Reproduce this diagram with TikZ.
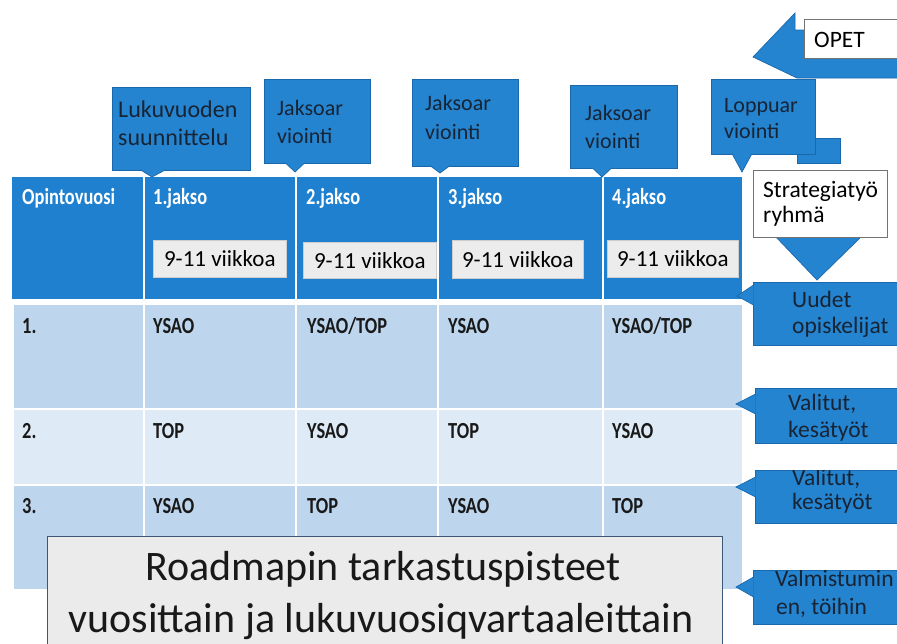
\documentclass[tikz,border=0pt]{standalone}
\usepackage{fontspec}
\setmainfont{Carlito}
\newfontfamily\narrowfont[FakeStretch=0.8]{Carlito}

\definecolor{hdrblue}{RGB}{30,128,206}
\definecolor{callblue}{RGB}{36,132,208}
\definecolor{calledge}{RGB}{26,104,172}
\definecolor{rowa}{RGB}{189,214,238}
\definecolor{rowb}{RGB}{222,234,246}
\definecolor{chip}{RGB}{236,236,236}
\definecolor{chipedge}{RGB}{205,205,205}
\definecolor{ink}{RGB}{24,36,52}
\definecolor{titlefill}{RGB}{235,235,235}
\definecolor{titleedge}{RGB}{60,88,120}

\tikzset{
  callbox/.style={fill=callblue, draw=calledge, line width=0.7pt, inner sep=0pt, anchor=north west},
  whitebox/.style={fill=white, draw=black!55, line width=0.8pt, inner sep=0pt, anchor=north west},
  callpointer/.style={fill=callblue, draw=calledge, line width=0.7pt},
  calltext/.style={text=ink, font=\fontsize{22}{26}\selectfont, anchor=base west, inner sep=0pt},
  bigcalltext/.style={calltext, font=\fontsize{24}{28}\selectfont},
  sidetext/.style={calltext, font=\fontsize{23.5}{28}\selectfont},
  boxtext/.style={text=black, font=\fontsize{23.5}{28}\selectfont, anchor=base west, inner sep=0pt},
  hdrtext/.style={text=white, font=\narrowfont\bfseries\fontsize{23}{26}\selectfont, anchor=base west, inner sep=0pt},
  celltext/.style={text=black!90, font=\narrowfont\bfseries\fontsize{23}{26}\selectfont, anchor=base west, inner sep=0pt},
  chipbox/.style={fill=chip, draw=chipedge, line width=0.6pt, anchor=north west, inner sep=0pt,
    text=black, font=\fontsize{23}{26}\selectfont},
  titletext/.style={text=black!90, font=\fontsize{42}{48}\selectfont, anchor=base, inner sep=0pt},
  gridline/.style={white, line width=2pt}
}

\begin{document}
\begin{tikzpicture}[x=1pt,y=-1pt]
\clip (0,0) rectangle (897,643);
\fill[white] (0,0) rectangle (897,643);

% ---------- table ----------
\fill[hdrblue] (12,177) rectangle (742,299);
\fill[rowa] (14,305) rectangle (742,408);
\fill[rowb] (14,410) rectangle (742,484);
\fill[rowa] (14,486) rectangle (742,589);
\foreach \cx in {144,296,438,603}
  \draw[gridline] (\cx,177) -- (\cx,589);

% header texts
\node[hdrtext] (hOpv) at (22,204) {Opintovuosi};
\node[hdrtext] (hJ1) at (153,204) {1.jakso};
\node[hdrtext] (hJ2) at (306,204) {2.jakso};
\node[hdrtext] (hJ3) at (448,204) {3.jakso};
\node[hdrtext] (hJ4) at (612,204) {4.jakso};

% duration chips
\node[chipbox, minimum width=133pt, minimum height=37pt] (g1) at (153,240) {9-11 viikkoa};
\node[chipbox, minimum width=133pt, minimum height=36pt] (g2) at (303,242) {9-11 viikkoa};
\node[chipbox, minimum width=131pt, minimum height=38pt] (g3) at (452,240) {9-11 viikkoa};
\node[chipbox, minimum width=131pt, minimum height=37pt] (g4) at (607,240) {9-11 viikkoa};

% body rows
\node[celltext] (r1c0) at (22,333) {1.};
\node[celltext] (r1c1) at (153,333) {YSAO};
\node[celltext] (r1c2) at (307,333) {YSAO/TOP};
\node[celltext] (r1c3) at (448,333) {YSAO};
\node[celltext] (r1c4) at (612,333) {YSAO/TOP};

\node[celltext] (r2c0) at (22,438) {2.};
\node[celltext] (r2c1) at (153,438) {TOP};
\node[celltext] (r2c2) at (307,438) {YSAO};
\node[celltext] (r2c3) at (448,438) {TOP};
\node[celltext] (r2c4) at (612,438) {YSAO};

\node[celltext] (r3c0) at (22,513) {3.};
\node[celltext] (r3c1) at (153,513) {YSAO};
\node[celltext] (r3c2) at (307,513) {TOP};
\node[celltext] (r3c3) at (448,513) {YSAO};
\node[celltext] (r3c4) at (612,513) {TOP};

% ---------- top right arrows ----------
% left-pointing arrow behind the OPET label
\path[callpointer] (753,57) -- (795,13) -- (795,30) -- (900,30) -- (900,78) -- (797,78) -- cycle;
% downward arrow: shaft and head
\path[callpointer] (797,138) rectangle (840,163);
\path[callpointer] (775,236) -- (862,236) -- (817,280) -- cycle;

% ---------- top callouts ----------
\node[callbox, minimum width=138pt, minimum height=83pt] (b1) at (112,87) {};
\coordinate (b1tip) at (152,177);
\path[callpointer] (140,169.6) -- (b1tip) -- (166,169.6);
\node[bigcalltext] (b1a) at (118,117) {Lukuvuoden};
\node[bigcalltext] (b1b) at (118,145) {suunnittelu};

\node[callbox, minimum width=106pt, minimum height=84pt] (b2) at (264,79) {};
\coordinate (b2tip) at (295,172);
\path[callpointer] (285,162.6) -- (b2tip) -- (305,162.6);
\node[calltext] (b2a) at (277,115) {Jaksoar};
\node[calltext] (b2b) at (277,143) {viointi};

\node[callbox, minimum width=106pt, minimum height=87pt] (b3) at (412,79) {};
\coordinate (b3tip) at (440,173);
\path[callpointer] (430,165.6) -- (b3tip) -- (450,165.6);
\node[calltext] (b3a) at (425,110) {Jaksoar};
\node[calltext] (b3b) at (425,139) {viointi};

\node[callbox, minimum width=107pt, minimum height=83pt] (b4) at (570,85) {};
\coordinate (b4tip) at (602,177);
\path[callpointer] (592,167.6) -- (b4tip) -- (612,167.6);
\node[calltext] (b4a) at (585,120) {Jaksoar};
\node[calltext] (b4b) at (585,148) {viointi};

\node[callbox, minimum width=104pt, minimum height=75pt] (b5) at (711,79) {};
\coordinate (b5tip) at (742,172);
\path[callpointer] (732,153.6) -- (b5tip) -- (752,153.6);
\node[calltext] (b5a) at (724,112) {Loppuar};
\node[calltext] (b5b) at (724,138) {viointi};

% ---------- white label boxes ----------
\node[whitebox, minimum width=134pt, minimum height=67pt] (strat) at (753,170) {};
\node[boxtext] (strata) at (763,197) {Strategiatyö};
\node[boxtext] (stratb) at (763,222) {ryhmä};

\node[whitebox, minimum width=100pt, minimum height=39pt] (opet) at (804,19) {};
\node[boxtext] (opeta) at (814,47) {OPET};

% ---------- right callouts ----------
\node[callbox, minimum width=150pt, minimum height=63pt] (q1) at (753,282) {};
\coordinate (q1tip) at (737,296);
\path[callpointer] (753.6,285) -- (q1tip) -- (753.6,305);
\node[sidetext] (q1a) at (792,307) {Uudet};
\node[sidetext] (q1b) at (792,333) {opiskelijat};

\node[callbox, minimum width=150pt, minimum height=55pt] (q2) at (755,388) {};
\coordinate (q2tip) at (736,404);
\path[callpointer] (755.6,394) -- (q2tip) -- (755.6,414);
\node[sidetext] (q2a) at (788,410) {Valitut,};
\node[sidetext] (q2b) at (788,437) {kesätyöt};

\node[callbox, minimum width=150pt, minimum height=53pt] (q3) at (755,470) {};
\coordinate (q3tip) at (736,487);
\path[callpointer] (755.6,477) -- (q3tip) -- (755.6,497);
\begin{scope}
  \clip (755,470.5) rectangle (900,523);
  \node[sidetext] (q3a) at (792,485) {Valitut,};
  \node[sidetext] (q3b) at (792,509) {kesätyöt};
\end{scope}

\node[callbox, minimum width=150pt, minimum height=54pt] (q4) at (753,570) {};
\coordinate (q4tip) at (736,587);
\path[callpointer] (753.6,577) -- (q4tip) -- (753.6,597);
\begin{scope}
  \clip (753,570.5) rectangle (900,624);
  \node[sidetext] (q4a) at (775,586) {Valmistumin};
  \node[sidetext] (q4b) at (776,614) {en, töihin};
\end{scope}

% ---------- title panel ----------
\node[fill=titlefill, draw=titleedge, line width=1.4pt, anchor=north west, inner sep=0pt,
      minimum width=675pt, minimum height=120pt] (title) at (47,536) {};
\node[titletext] (titlea) at (383,580) {Roadmapin tarkastuspisteet};
\node[titletext] (titleb) at (381,632) {vuosittain ja lukuvuosiqvartaaleittain};
\end{tikzpicture}
\end{document}
